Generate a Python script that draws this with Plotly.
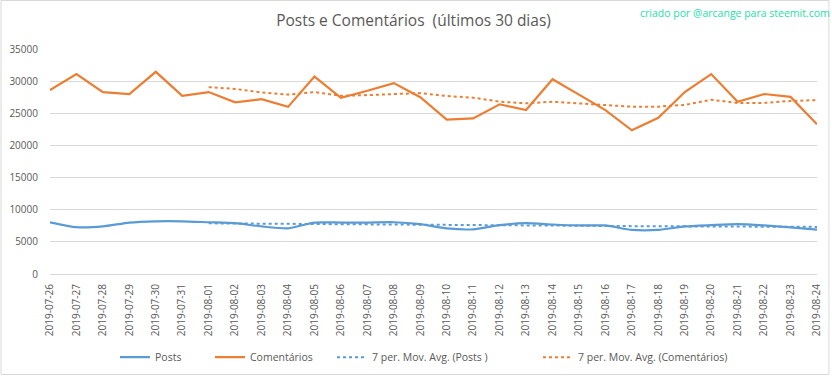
import plotly.graph_objects as go

dates = ["2019-07-26", "2019-07-27", "2019-07-28", "2019-07-29", "2019-07-30", "2019-07-31",
         "2019-08-01", "2019-08-02", "2019-08-03", "2019-08-04", "2019-08-05", "2019-08-06",
         "2019-08-07", "2019-08-08", "2019-08-09", "2019-08-10", "2019-08-11", "2019-08-12",
         "2019-08-13", "2019-08-14", "2019-08-15", "2019-08-16", "2019-08-17", "2019-08-18",
         "2019-08-19", "2019-08-20", "2019-08-21", "2019-08-22", "2019-08-23", "2019-08-24"]

posts = [8050, 7280, 7400, 8000, 8200, 8200, 8050, 7900, 7400, 7100,
         8000, 8000, 8000, 8050, 7750, 7100, 6950, 7600, 7900, 7700,
         7550, 7550, 6850, 6850, 7400, 7600, 7750, 7550, 7250, 6900]

comentarios = [28600, 31100, 28300, 28000, 31450, 27700, 28300, 26700, 27200, 26000,
               30700, 27400, 28500, 29700, 27500, 24000, 24200, 26400, 25500, 30300,
               27900, 25500, 22350, 24300, 28300, 31100, 26800, 28000, 27550, 23300]

# 7-period moving averages (first 6 periods empty)
ma_posts = [None] * 6 + [7883, 7861, 7879, 7836, 7836, 7807, 7779, 7779, 7757, 7714,
                         7693, 7636, 7621, 7579, 7507, 7479, 7443, 7429, 7400, 7357,
                         7364, 7364, 7321, 7329]
ma_coment = [None] * 6 + [29064, 28793, 28236, 27907, 28293, 27714, 27829, 28029, 28143, 27686,
                          27429, 26814, 26543, 26800, 26543, 26257, 26021, 26036, 26307, 27107,
                          26607, 26621, 26914, 27050]

y_ticks = [0, 5000, 10000, 15000, 20000, 25000, 30000, 35000]

BLUE = "#5b9bd5"
ORANGE = "#ed7d31"
GRAY = "#595959"
FONT = "Open Sans"

fig = go.Figure()
fig.add_trace(go.Scatter(x=dates, y=posts, mode="lines", name="Posts", legend="legend",
                         line=dict(color=BLUE, width=2.2, shape="spline", smoothing=0.6)))
fig.add_trace(go.Scatter(x=dates, y=comentarios, mode="lines", name="Comentários", legend="legend2",
                         line=dict(color=ORANGE, width=2.2)))
fig.add_trace(go.Scatter(x=dates, y=ma_posts, mode="lines", name="7 per. Mov. Avg. (Posts )",
                         legend="legend3", line=dict(color=BLUE, width=2, dash="dot")))
fig.add_trace(go.Scatter(x=dates, y=ma_coment, mode="lines", name="7 per. Mov. Avg. (Comentários)",
                         legend="legend4", line=dict(color=ORANGE, width=2, dash="dot")))


def leg(px):
    return dict(orientation="h", x=(px - 50) / 767, xanchor="left",
                y=0.055, yref="container", yanchor="middle",
                font=dict(family=FONT, size=10.5, color=GRAY), itemwidth=30,
                bgcolor="rgba(0,0,0,0)")


fig.update_layout(
    width=832, height=378,
    margin=dict(l=50, r=15, t=49, b=103.5, autoexpand=False),
    paper_bgcolor="white", plot_bgcolor="white",
    font=dict(family=FONT, color=GRAY, size=10),
    title=dict(text="Posts e Comentários  (últimos 30 dias)", x=0.497, xanchor="center",
               y=0.945, yanchor="middle", yref="container",
               font=dict(family=FONT, size=15.5, color=GRAY)),
    showlegend=True,
    legend=leg(115), legend2=leg(210), legend3=leg(332), legend4=leg(538),
    xaxis=dict(type="category", tickangle=-90, showgrid=False, showline=True,
               linecolor="#d9d9d9", linewidth=1, ticks="", ticklabelstandoff=5,
               tickfont=dict(family=FONT, size=10, color=GRAY)),
    yaxis=dict(range=[0, 35000], tickvals=y_ticks, ticktext=[str(v) for v in y_ticks],
               showgrid=True, gridcolor="#d9d9d9", gridwidth=1, zeroline=False,
               showline=False, ticks="", ticklabelstandoff=11,
               tickfont=dict(family=FONT, size=10, color=GRAY)),
)

fig.add_annotation(text="criado por @arcange para steemit.com", xref="paper", yref="paper",
                   x=1.019, y=1.158, xanchor="right", yanchor="middle", showarrow=False,
                   font=dict(family=FONT, size=10.5, color="#1edfa6"))

fig.add_shape(type="rect", xref="paper", yref="paper",
              x0=-0.0639, x1=1.0156, y0=-0.4467, y1=1.2156,
              line=dict(color="#d9d9d9", width=1), fillcolor="rgba(0,0,0,0)", layer="below")

fig.write_html("out.html", config={"displayModeBar": False},
               post_script="document.body.style.margin='0';")
